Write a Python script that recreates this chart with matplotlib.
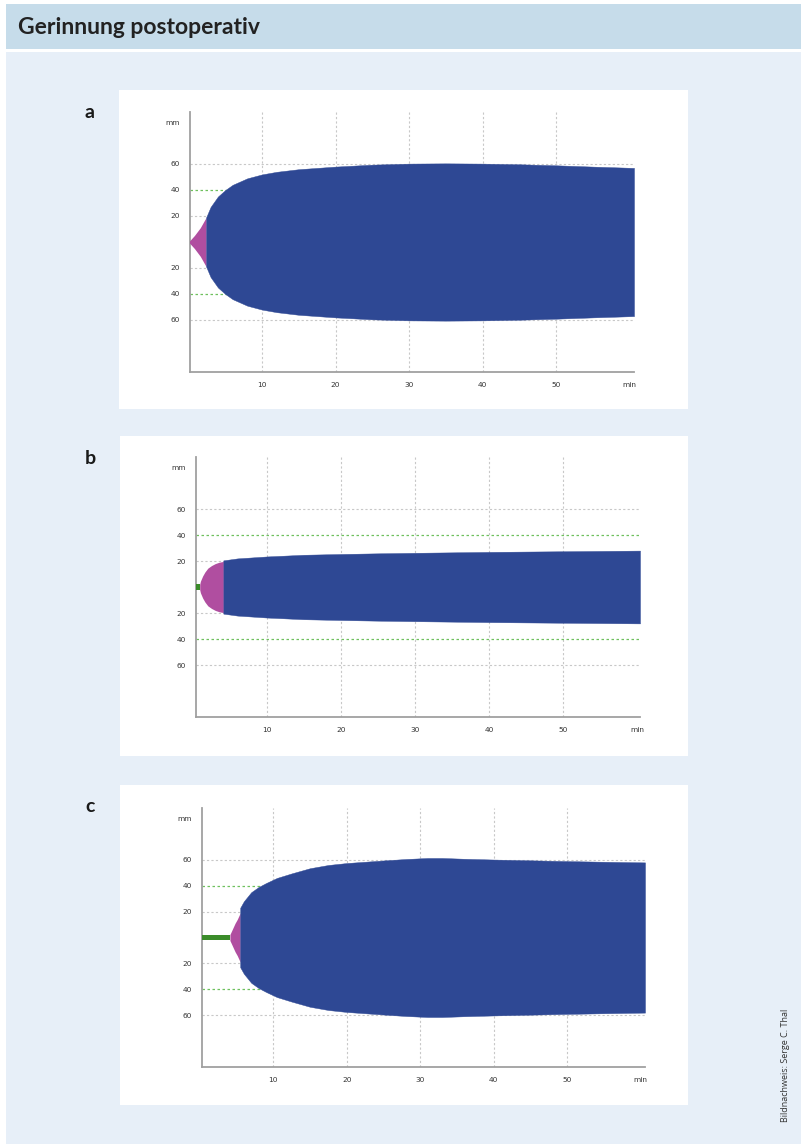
import numpy as np
import matplotlib.pyplot as plt
from matplotlib.patches import Rectangle

W, H = 803, 1144

# panel a
a_pink_t = [0, 0.4, 0.8, 1.2, 1.6, 2.0, 2.4]
a_pink_amp = [0, 2.5, 5, 8, 11, 15, 19]
a_blue_t = [2.4, 3, 4, 5, 6, 8, 10, 12, 15, 20, 25, 30, 35, 40, 45, 50, 55, 60.6]
a_blue_amp = [19, 27, 35, 40, 44, 49, 52, 54, 56, 58, 59.5, 60.3, 60.5, 60.3, 59.8, 59, 58, 57]

# panel b
b_green_t = [0, 0.9]
b_green_amp = [2, 2]
b_pink_t = [0.9, 1.0, 1.3, 1.6, 2.0, 2.5, 3.0, 3.5, 4.1]
b_pink_amp = [2, 4.5, 8.5, 11.5, 14.5, 16.5, 18, 19, 19.7]
b_blue_t = [4.1, 6, 10, 15, 20, 25, 30, 40, 50, 60.4]
b_blue_amp = [20.5, 22, 23.5, 24.8, 25.4, 25.9, 26.3, 27, 27.5, 28]

# panel c
c_green_t = [0, 4.1]
c_green_amp = [2.3, 2.3]
c_pink_t = [4.1, 4.4, 4.8, 5.1, 5.5]
c_pink_amp = [2.3, 6, 11, 14, 19]
c_blue_t = [5.5, 6, 7, 8, 9, 10.5, 12.5, 15, 17.5, 20, 25, 28, 31, 33, 36, 40, 45, 50, 55, 60.6]
c_blue_amp = [23, 28, 35, 39, 42, 46, 49.5, 53.5, 56, 57.5, 59.5, 60.6, 61.4, 61.4, 60.8, 60.2, 59.6, 59, 58.5, 58]

x_ticks = [10, 20, 30, 40, 50, 60]
x_labels = ['10', '20', '30', '40', '50', 'min']
y_ticks = [-60, -40, -20, 20, 40, 60, 92]
y_labels = ['60', '40', '20', '20', '40', '60', 'mm']

BLUE = '#2e4894'
PINK = '#b04ea0'
GREEN = '#3b8c2a'


def box(x0, y0, x1, y1):
        # pixel box (top-left origin) -> figure fraction
        return [x0 / W, 1 - y1 / H, (x1 - x0) / W, (y1 - y0) / H]


def draw_panel(fig, pos, xlim, green, pink, blue):
        ax = fig.add_axes(box(*pos))
        ax.set_zorder(2)
        ax.set_xlim(xlim)
        ax.set_ylim(-100, 100)
        ax.set_facecolor('white')

        # grid lines
        for x in x_ticks[:-1]:
                ax.axvline(x, color='#c8c8c8', lw=0.8, ls=(0, (2, 2)), zorder=1)
        for y in [-60, -20, 20, 60]:
                ax.axhline(y, color='#c8c8c8', lw=0.8, ls=(0, (2, 2)), zorder=1)
        for y in [-40, 40]:
                ax.axhline(y, color='#6fc05e', lw=0.9, ls=(0, (2, 2)), zorder=2)

        if green is not None:
                t, a = green
                ax.fill_between(t, -np.array(a), a, color=GREEN, lw=0, zorder=3)
        t, a = pink
        ax.fill_between(t, -np.array(a), a, color=PINK, lw=0, zorder=3)
        t, a = blue
        ax.fill_between(t, -np.array(a), a, color=BLUE, lw=0.3, edgecolor=BLUE, zorder=4)

        for s in ['top', 'right']:
                ax.spines[s].set_visible(False)
        for s in ['left', 'bottom']:
                ax.spines[s].set_color('#a0a0a0')
                ax.spines[s].set_linewidth(1.3)

        ax.set_xticks(x_ticks)
        ax.set_xticklabels(x_labels)
        ax.set_yticks(y_ticks)
        ax.set_yticklabels(y_labels)
        ax.tick_params(length=0, labelsize=5.3, colors='#333333', pad=7)
        return ax


def main():
        fig = plt.figure(figsize=(W / 100, H / 100), dpi=100)
        fig.patch.set_facecolor('white')

        # background layer in pixel coordinates
        bg = fig.add_axes([0, 0, 1, 1])
        bg.set_xlim(0, W)
        bg.set_ylim(H, 0)
        bg.axis('off')
        bg.add_patch(Rectangle((6, 4), 795, 45, color='#c6dcea', lw=0))
        bg.add_patch(Rectangle((6, 52), 795, 1100, color='#e7eff8', lw=0))
        for x0, y0, x1, y1 in [(119, 90, 688, 409), (120, 436, 688, 756), (120, 785, 688, 1105)]:
                bg.add_patch(Rectangle((x0, y0), x1 - x0, y1 - y0, color='white', lw=0))

        bg.text(18, 28, 'Gerinnung postoperativ', fontsize=16.5, fontweight='bold',
                family=['Lato', 'DejaVu Sans'], color='#222222', va='center', ha='left')
        for lab, y in [('a', 113), ('b', 459), ('c', 806)]:
                bg.text(90, y, lab, fontsize=14, fontweight='bold', family=['Lato', 'DejaVu Sans'],
                        color='#1a1a1a', ha='center', va='center')
        bg.text(786, 1065, 'Bildnachweis: Serge C. Thal', rotation=90, fontsize=6.5,
                family='Open Sans', color='#333333', ha='center', va='center')

        draw_panel(fig, (190, 112, 634, 372), (0.2, 60.6), None,
                   (a_pink_t, a_pink_amp), (a_blue_t, a_blue_amp))
        draw_panel(fig, (196, 457, 640, 717), (0.4, 60.4), (b_green_t, b_green_amp),
                   (b_pink_t, b_pink_amp), (b_blue_t, b_blue_amp))
        draw_panel(fig, (202, 808, 645, 1067), (0.3, 60.6), (c_green_t, c_green_amp),
                   (c_pink_t, c_pink_amp), (c_blue_t, c_blue_amp))

        fig.savefig('out.png', dpi=100, facecolor=fig.get_facecolor())


if __name__ == '__main__':
        main()
